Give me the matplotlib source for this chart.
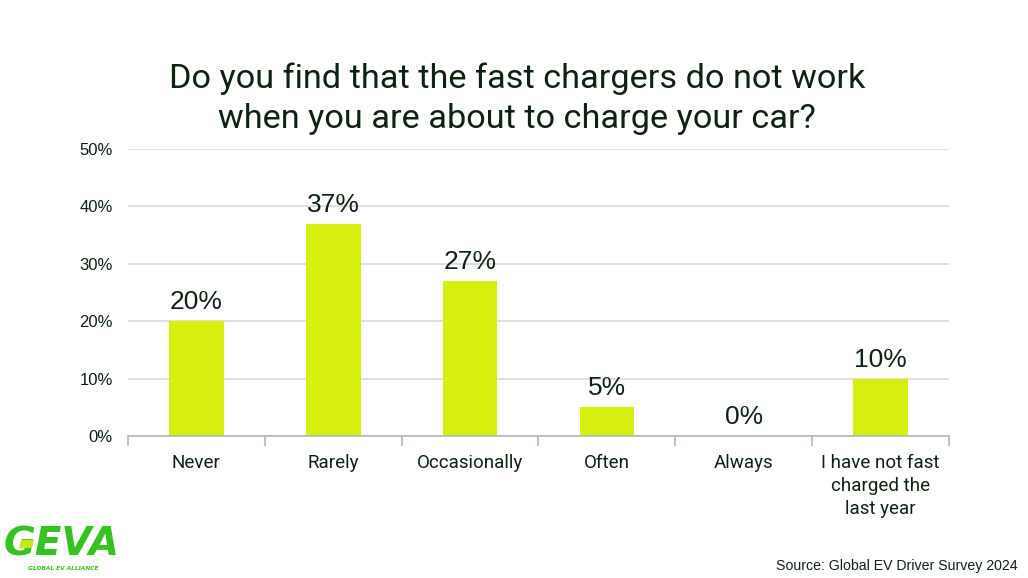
import matplotlib
matplotlib.use("Agg")
import matplotlib.pyplot as plt
from matplotlib.patches import Polygon
from matplotlib.ticker import FixedLocator, NullFormatter, PercentFormatter

categories = ["Never", "Rarely", "Occasionally", "Often", "Always",
              "I have not fast\ncharged the\nlast year"]
values = [20, 37, 27, 5, 0, 10]
y_ticks = [0, 10, 20, 30, 40, 50]

title = "Do you find that the fast chargers do not work\nwhen you are about to charge your car?"
source = "Source: Global EV Driver Survey 2024"

bar_color = "#d7ef0f"
text_color = "#0e2212"
grid_color = "#d9d9d9"
axis_color = "#aeb6c8"
logo_green = "#37c31f"

fig = plt.figure(figsize=(10.28, 5.78), dpi=100)
ax = fig.add_axes([128 / 1028, (578 - 436) / 578, 821 / 1028, 287 / 578])

x = list(range(len(categories)))
ax.bar(x, values, width=0.4, color=bar_color, zorder=3)
ax.set_xlim(-0.5, len(categories) - 0.5)
ax.set_ylim(0, 50)

ax.set_yticks(y_ticks)
ax.yaxis.set_major_formatter(PercentFormatter(decimals=0))
ax.tick_params(axis="y", length=0, pad=11, labelsize=12, labelcolor=text_color)
for lbl in ax.get_yticklabels():
    lbl.set_fontfamily("Liberation Sans")
ax.grid(axis="y", color=grid_color, linewidth=1.2, zorder=0)

# category names centred under bars, tick marks between categories
ax.set_xticks(x)
ax.set_xticklabels(categories, fontsize=13.5, color=text_color,
                   fontfamily="Roboto", linespacing=1.35)
ax.tick_params(axis="x", which="major", length=0, pad=13)
ax.xaxis.set_minor_locator(FixedLocator([i - 0.5 for i in range(len(categories) + 1)]))
ax.xaxis.set_minor_formatter(NullFormatter())
ax.tick_params(axis="x", which="minor", length=7, width=1.2, color=axis_color)

for side in ["top", "right", "left"]:
    ax.spines[side].set_visible(False)
ax.spines["bottom"].set_color(axis_color)
ax.spines["bottom"].set_linewidth(1.2)
ax.spines["bottom"].set_zorder(4)

for xi, v in zip(x, values):
    ax.annotate(f"{v}%", (xi, v), xytext=(0, 5), textcoords="offset points",
                ha="center", va="bottom", fontsize=19, color=text_color,
                fontfamily="Liberation Sans")

fig.text(517 / 1028, 1 - 99 / 578, title, ha="center", va="center",
         fontsize=24.7, color=text_color, fontfamily="Roboto", linespacing=1.33)

fig.text(1018 / 1028, 1 - 566 / 578, source, ha="right", va="center",
         fontsize=10.2, color=text_color, fontfamily="Liberation Sans")

# GEVA logo
fig.text(4 / 1028, 1 - 545 / 578, "GEVA", ha="left", va="center",
         fontsize=28, fontweight="heavy", fontstyle="italic", color=logo_green,
         fontfamily="DejaVu Sans", zorder=4)
fig.text(28 / 1028, 1 - 569 / 578, "GLOBAL EV ALLIANCE", ha="left", va="center",
         fontsize=4.2, fontweight="bold", fontstyle="italic", color=logo_green,
         fontfamily="DejaVu Sans")
fig.add_artist(Polygon([(21 / 1028, 1 - 540 / 578), (34 / 1028, 1 - 540 / 578),
                        (32 / 1028, 1 - 548 / 578), (19 / 1028, 1 - 548 / 578)],
                       closed=True, transform=fig.transFigure,
                       facecolor="#c9e81a", edgecolor="none", zorder=6))

fig.savefig("out.png", dpi=100, facecolor="white")
